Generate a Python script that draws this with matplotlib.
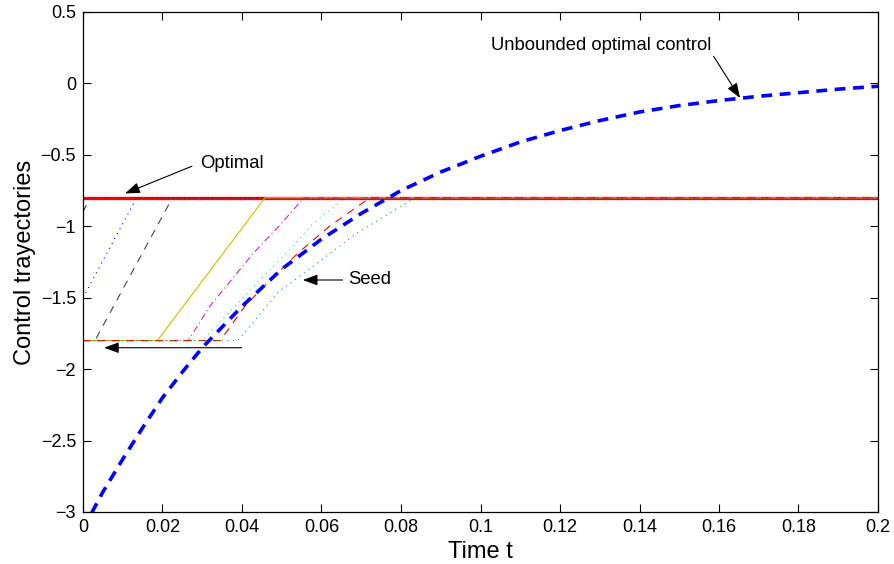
import matplotlib
matplotlib.use('Agg')
import matplotlib.pyplot as plt

plt.rcParams['font.family'] = ['Liberation Sans', 'DejaVu Sans']

# unbounded optimal control
unb_t = [0, 0.005, 0.01, 0.015, 0.02, 0.025, 0.03, 0.04, 0.05, 0.06, 0.07,
         0.08, 0.09, 0.10, 0.11, 0.12, 0.13, 0.14, 0.15, 0.16, 0.17, 0.18,
         0.19, 0.20]
unb_u = [-3.12, -2.86, -2.63, -2.41, -2.20, -2.02, -1.85, -1.56, -1.30, -1.09,
         -0.91, -0.75, -0.62, -0.51, -0.41, -0.33, -0.26, -0.20, -0.155, -0.12,
         -0.09, -0.065, -0.04, -0.02]

# bounded optimal control
opt_t = [0, 0.2]
opt_u = [-0.8, -0.8]

# seed trajectories
seed_blue_t = [0, 0.0135, 0.2]
seed_blue_u = [-1.5, -0.8, -0.8]
seed_gray1_t = [0, 0.0017, 0.2]
seed_gray1_u = [-0.9, -0.8, -0.8]
seed_gray2_t = [0, 0.003, 0.0225, 0.2]
seed_gray2_u = [-1.8, -1.8, -0.8, -0.8]
seed_yellow_t = [0, 0.0187, 0.0458, 0.2]
seed_yellow_u = [-1.8, -1.8, -0.8, -0.8]
seed_magenta_t = [0, 0.0265, 0.0319, 0.0378, 0.0428, 0.0496, 0.0556, 0.2]
seed_magenta_u = [-1.8, -1.8, -1.56, -1.36, -1.19, -0.99, -0.8, -0.8]
seed_cyan_t = [0, 0.030, 0.0403, 0.0458, 0.0508, 0.0579, 0.0648, 0.066, 0.2]
seed_cyan_u = [-1.8, -1.8, -1.50, -1.34, -1.20, -0.98, -0.83, -0.8, -0.8]
seed_red_t = [0, 0.0345, 0.041, 0.047, 0.054, 0.062, 0.0722, 0.2]
seed_red_u = [-1.8, -1.8, -1.55, -1.38, -1.19, -1.0, -0.8, -0.8]
seed_green_t = [0, 0.039, 0.045, 0.0491, 0.0555, 0.0688, 0.0835, 0.2]
seed_green_u = [-1.8, -1.8, -1.60, -1.46, -1.33, -1.05, -0.8, -0.8]

x_ticks = [0, 0.02, 0.04, 0.06, 0.08, 0.1, 0.12, 0.14, 0.16, 0.18, 0.2]
x_tick_labels = ['0', '0.02', '0.04', '0.06', '0.08', '0.1', '0.12', '0.14',
                 '0.16', '0.18', '0.2']
y_ticks = [-3, -2.5, -2, -1.5, -1, -0.5, 0, 0.5]
y_tick_labels = ['\u22123', '\u22122.5', '\u22122', '\u22121.5', '\u22121',
                 '\u22120.5', '0', '0.5']

fig = plt.figure(figsize=(8.95, 5.64), dpi=100)
ax = fig.add_axes([83 / 895, 52 / 564, 795 / 895, 500 / 564])

ax.plot(opt_t, opt_u, color='red', lw=2.4)

thin = 0.8
dotted = (0, (1, 4))
dashed = (0, (7, 6))
dashdot = (0, (6, 3, 1, 3))
ax.plot(seed_blue_t, seed_blue_u, color='blue', lw=thin, linestyle=dotted)
ax.plot(seed_gray1_t, seed_gray1_u, color='#444444', lw=thin, linestyle=dashed)
ax.plot(seed_gray2_t, seed_gray2_u, color='#444444', lw=thin, linestyle=dashed)
ax.plot(seed_yellow_t, seed_yellow_u, color='#c8c000', lw=thin)
ax.plot(seed_magenta_t, seed_magenta_u, color='#cc22cc', lw=thin, linestyle=dashdot)
ax.plot(seed_cyan_t, seed_cyan_u, color='#33cccc', lw=thin, linestyle=dotted)
ax.plot(seed_red_t, seed_red_u, color='red', lw=thin, linestyle=dashed)
ax.plot(seed_green_t, seed_green_u, color='#22aa22', lw=thin, linestyle=dotted)

ax.plot(unb_t, unb_u, color='blue', lw=2.6, linestyle=(0, (3, 2.1)))

arrow = dict(arrowstyle='-|>,head_length=0.6,head_width=0.22', color='k',
             lw=0.8, mutation_scale=15, shrinkB=0)
ax.annotate('Optimal', xy=(0.0106, -0.77), xytext=(0.0294, -0.557),
            fontsize=13.3, ha='left', va='center',
            arrowprops=dict(arrow, relpos=(0, 0.5), shrinkA=4))
ax.annotate('Seed', xy=(0.0553, -1.376), xytext=(0.0667, -1.376),
            fontsize=13.3, ha='left', va='center',
            arrowprops=dict(arrow, relpos=(0, 0.5), shrinkA=2))
ax.annotate('Unbounded optimal control', xy=(0.1653, -0.102),
            xytext=(0.1582, 0.269), fontsize=13.3, ha='right', va='center',
            arrowprops=dict(arrow, relpos=(1, 0), shrinkA=0))
ax.annotate('', xy=(0.0053, -1.85), xytext=(0.0399, -1.85),
            arrowprops=dict(arrow, shrinkA=0))

ax.set_xlim(0, 0.2)
ax.set_ylim(-3, 0.5)
ax.set_xticks(x_ticks)
ax.set_xticklabels(x_tick_labels)
ax.set_yticks(y_ticks)
ax.set_yticklabels(y_tick_labels)
ax.tick_params(direction='in', top=True, right=True, length=6, width=0.8,
               labelsize=13, pad=5)
for s in ax.spines.values():
    s.set_linewidth(0.9)

ax.set_xlabel('Time t', fontsize=17, labelpad=4)
ax.set_ylabel('Control trayectories', fontsize=17, labelpad=3)

fig.savefig('out.png', dpi=100)
